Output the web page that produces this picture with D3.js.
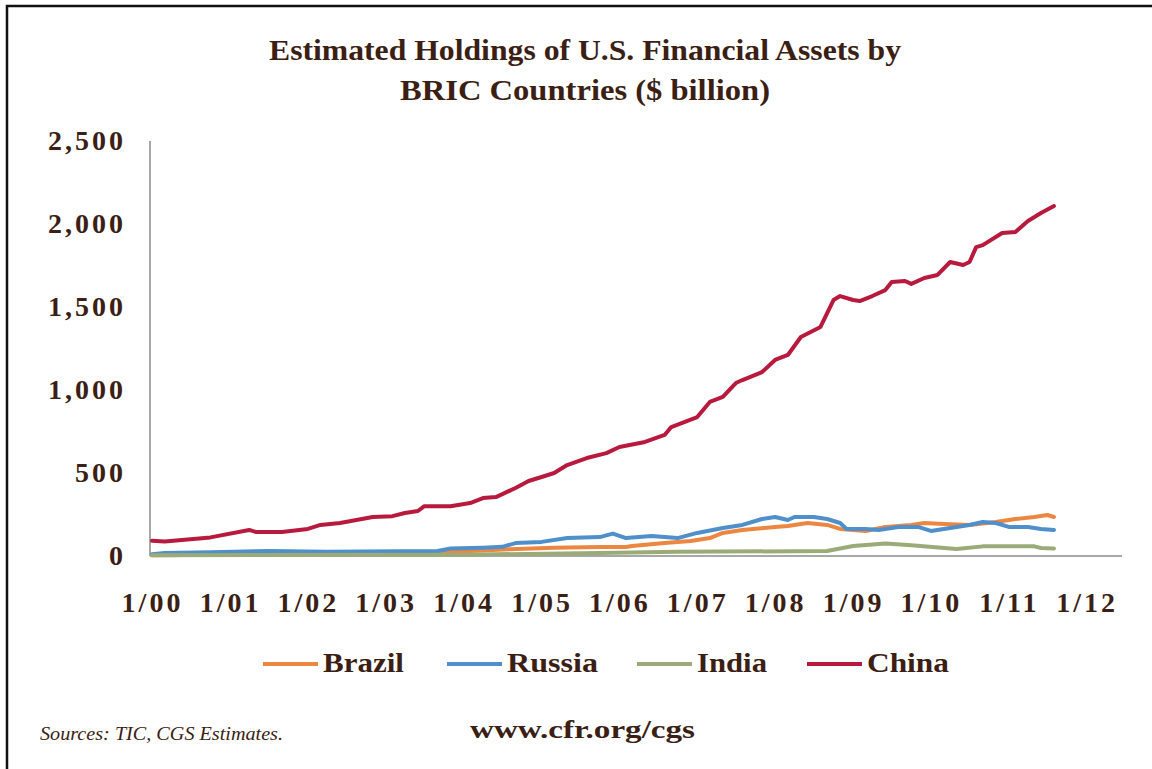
<!DOCTYPE html>
<head>
<meta charset="utf-8">
<title>BRIC holdings of U.S. financial assets</title>
<script type="text/javascript" src="https://cdn.jsdelivr.net/npm/d3@7"></script>
<style>
body { margin: 0; background: #fff; }
text { font-family: "Liberation Serif", "DejaVu Serif", serif; fill: #3b1e14; }
.axis path { stroke: #8a8a8a; stroke-width: 1.5; }
.axis text { font-size: 28px; font-weight: bold; letter-spacing: 3px; }
</style>
</head>
<body>
<script>
// values, $ billion, [month, value]
var brazil = [
	["2000-01", 5], ["2002-01", 10], ["2003-06", 15], ["2004-02", 30], ["2004-08", 40],
	["2005-03", 50], ["2005-10", 54], ["2006-02", 54], ["2006-03", 60], ["2006-08", 78],
	["2006-12", 90], ["2007-03", 108], ["2007-05", 139], ["2007-08", 157], ["2008-01", 175],
	["2008-03", 181], ["2008-06", 199], ["2008-09", 187], ["2008-11", 163], ["2009-03", 151],
	["2009-06", 175], ["2009-10", 187], ["2009-12", 199], ["2010-03", 193], ["2010-07", 187],
	["2010-11", 205], ["2011-02", 223], ["2011-05", 235], ["2011-07", 247], ["2011-08", 235]
];
var russia = [
	["2000-01", 10], ["2000-03", 18], ["2000-10", 22], ["2001-07", 30], ["2002-04", 25],
	["2003-03", 28], ["2003-09", 30], ["2003-11", 45], ["2004-04", 50], ["2004-07", 55],
	["2004-09", 78], ["2005-01", 85], ["2005-05", 108], ["2005-10", 114], ["2005-12", 135],
	["2006-02", 108], ["2006-06", 120], ["2006-10", 108], ["2007-01", 139], ["2007-05", 169],
	["2007-08", 187], ["2007-11", 223], ["2008-01", 235], ["2008-03", 217], ["2008-04", 235],
	["2008-07", 235], ["2008-09", 223], ["2008-11", 199], ["2008-12", 163], ["2009-03", 163],
	["2009-05", 157], ["2009-08", 175], ["2009-11", 175], ["2010-01", 151], ["2010-04", 169],
	["2010-07", 187], ["2010-09", 205], ["2010-11", 199], ["2011-01", 175], ["2011-04", 175],
	["2011-06", 163], ["2011-08", 157]
];
var india = [
	["2000-01", 5], ["2004-01", 8], ["2005-10", 18], ["2006-10", 25], ["2008-09", 30],
	["2009-01", 60], ["2009-06", 75], ["2009-10", 65], ["2010-05", 42], ["2010-09", 58],
	["2011-05", 58], ["2011-06", 48], ["2011-08", 45]
];
var china = [
	["2000-01", 92], ["2000-03", 88], ["2000-10", 112], ["2001-04", 157], ["2001-05", 145],
	["2001-09", 145], ["2002-01", 163], ["2002-03", 187], ["2002-06", 199], ["2002-11", 235],
	["2003-02", 240], ["2003-04", 259], ["2003-06", 271], ["2003-07", 300], ["2003-11", 300],
	["2004-02", 319], ["2004-04", 349], ["2004-06", 355], ["2004-09", 410], ["2004-11", 452],
	["2005-01", 476], ["2005-03", 500], ["2005-05", 548], ["2005-08", 590], ["2005-11", 620],
	["2006-01", 657], ["2006-05", 687], ["2006-08", 729], ["2006-09", 777], ["2006-11", 807],
	["2007-01", 837], ["2007-03", 928], ["2007-05", 958], ["2007-07", 1042], ["2007-08", 1060],
	["2007-11", 1108], ["2008-01", 1181], ["2008-03", 1211], ["2008-05", 1319], ["2008-08", 1380],
	["2008-10", 1542], ["2008-11", 1566], ["2009-01", 1542], ["2009-02", 1536], ["2009-04", 1566],
	["2009-06", 1602], ["2009-07", 1651], ["2009-09", 1657], ["2009-10", 1639], ["2009-12", 1675],
	["2010-02", 1693], ["2010-04", 1771], ["2010-06", 1753], ["2010-07", 1771], ["2010-08", 1861],
	["2010-09", 1873], ["2010-12", 1946], ["2011-02", 1952], ["2011-04", 2018], ["2011-06", 2066],
	["2011-08", 2108]
];
var seriesNames = ["Brazil", "Russia", "India", "China"];
var seriesColors = ["#ec8741", "#4f8fcc", "#9aab78", "#b81a3e"];
var yTicks = [0, 500, 1000, 1500, 2000, 2500];
var titleLines = ["Estimated Holdings of U.S. Financial Assets by", "BRIC Countries ($ billion)"];

var parse = d3.timeParse("%Y-%m");
var allSeries = [brazil, russia, india, china];

var svg = d3.select("body").append("svg")
	.attr("width", 1152)
	.attr("height", 769);

// frame (only top and left edges show)
svg.append("path")
	.attr("d", "M7,769V6H1152")
	.attr("fill", "none")
	.attr("stroke", "#111")
	.attr("stroke-width", 2.5);

var x = d3.scaleTime()
	.domain([new Date(2000, 0, 1), new Date(2012, 5, 15)])
	.range([152, 1122]);
var y = d3.scaleLinear()
	.domain([0, 2500])
	.range([556, 141]);

// title
svg.selectAll(".title").data(titleLines).enter().append("text")
	.attr("class", "title")
	.attr("x", 585)
	.attr("y", function(d, i) { return 60 + i * 40; })
	.attr("text-anchor", "middle")
	.attr("textLength", function(d, i) { return i == 0 ? 632 : 370; })
	.attr("lengthAdjust", "spacingAndGlyphs")
	.style("font-size", "29px")
	.style("font-weight", "bold")
	.text(function(d) { return d; });

// axes
var yAxis = svg.append("g")
	.attr("class", "axis")
	.attr("transform", "translate(150,0)")
	.call(d3.axisLeft(y).tickValues(yTicks).tickSize(0).tickPadding(24).tickFormat(d3.format(",")));
yAxis.select(".domain").attr("d", "M0,141V556");

var xAxis = svg.append("g")
	.attr("class", "axis")
	.attr("transform", "translate(0,556)")
	.call(d3.axisBottom(x).ticks(d3.timeYear.every(1)).tickSize(0).tickFormat(d3.timeFormat("%-m/%y")));
xAxis.select(".domain").attr("d", "M150,0H1122");
xAxis.selectAll("text").attr("dy", null).attr("y", 56);

// lines
var line = d3.line()
	.x(function(d) { return x(parse(d[0])); })
	.y(function(d) { return y(d[1]); });

svg.selectAll(".series").data(allSeries).enter().append("path")
	.attr("class", "series")
	.attr("d", line)
	.attr("fill", "none")
	.attr("stroke", function(d, i) { return seriesColors[i]; })
	.attr("stroke-width", 4)
	.attr("stroke-linejoin", "round")
	.attr("stroke-linecap", "round");

// legend
var legendX = [263, 447, 637, 807];
var legendW = [81, 91, 70, 82];
var legend = svg.selectAll(".legend").data(seriesNames).enter().append("g")
	.attr("class", "legend")
	.attr("transform", function(d, i) { return "translate(" + legendX[i] + ",664)"; });
legend.append("line")
	.attr("x1", 0).attr("x2", 55)
	.attr("stroke", function(d, i) { return seriesColors[i]; })
	.attr("stroke-width", 4);
legend.append("text")
	.attr("x", 60)
	.attr("y", 8)
	.attr("textLength", function(d, i) { return legendW[i]; })
	.attr("lengthAdjust", "spacingAndGlyphs")
	.style("font-size", "28px")
	.style("font-weight", "bold")
	.text(function(d) { return d; });

// footer
svg.append("text")
	.attr("x", 40)
	.attr("y", 740)
	.attr("textLength", 243)
	.attr("lengthAdjust", "spacingAndGlyphs")
	.style("font-size", "18px")
	.style("font-style", "italic")
	.text("Sources: TIC, CGS Estimates.");
svg.append("text")
	.attr("x", 470)
	.attr("y", 738)
	.attr("textLength", 225)
	.attr("lengthAdjust", "spacingAndGlyphs")
	.style("font-size", "26px")
	.style("font-weight", "bold")
	.text("www.cfr.org/cgs");
</script>
</body>
